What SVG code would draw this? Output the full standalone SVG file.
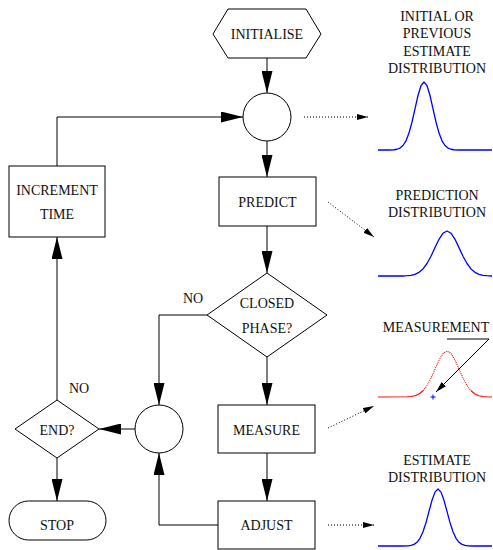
<svg xmlns="http://www.w3.org/2000/svg" width="493" height="550" viewBox="0 0 493 550">
<style>
.n{fill:#fff;stroke:#000;stroke-width:1}
.t{font-family:"Liberation Serif","Times New Roman",serif;font-size:14px;fill:#111;text-anchor:middle}
.c{fill:none;stroke:#000;stroke-width:1}
.d{fill:none;stroke:#000;stroke-width:1;stroke-dasharray:1 2}
.g{fill:none;stroke:#0000ff;stroke-width:1.3;stroke-linejoin:round}
.r{fill:none;stroke:#ff0000;stroke-width:1.1;stroke-linejoin:round}
</style>
<defs>
<marker id="ah" markerUnits="userSpaceOnUse" markerWidth="22" markerHeight="11" viewBox="0 0 22 11" refX="22" refY="5.5" orient="auto"><path d="M0,0 L22,5.5 L0,11 z" fill="#000"/></marker>
<marker id="sh" markerUnits="userSpaceOnUse" markerWidth="11" markerHeight="6" viewBox="0 0 11 6" refX="11" refY="3" orient="auto"><path d="M0,0 L11,3 L0,6 z" fill="#000"/></marker>
</defs>
<g id="connectors">
<path class="c" d="M267,58 V93" marker-end="url(#ah)"/>
<path class="c" d="M267,141 V177" marker-end="url(#ah)"/>
<path class="c" d="M267,226 V273" marker-end="url(#ah)"/>
<path class="c" d="M267,357 V405" marker-end="url(#ah)"/>
<path class="c" d="M267,453 V501" marker-end="url(#ah)"/>
<path class="c" d="M207,315 H159 V405" marker-end="url(#ah)"/>
<path class="c" d="M218,525 H159 V453" marker-end="url(#ah)"/>
<path class="c" d="M135,429 H99" marker-end="url(#ah)"/>
<path class="c" d="M57,400 V237" marker-end="url(#ah)"/>
<path class="c" d="M57,458 V501" marker-end="url(#ah)"/>
<path class="c" d="M57,166 V117 H243" marker-end="url(#ah)"/>
<path class="d" d="M304,117 H368" marker-end="url(#sh)"/>
<path class="d" d="M328,202 L374,237" marker-end="url(#sh)"/>
<path class="d" d="M328,428 L374,406" marker-end="url(#sh)"/>
<path class="d" d="M328,525 H374" marker-end="url(#sh)"/>
<path class="c" d="M447,339 H489 L436,392" marker-end="url(#sh)"/>
<text class="t" x="79" y="393">NO</text>
<text class="t" x="193" y="303">NO</text>
</g>
<g id="initialise">
<polygon class="n" points="213,34 228,9 306,9 321,34 306,58 228,58"/>
<text class="t" x="267" y="39">INITIALISE</text>
</g>
<g id="junction1"><circle class="n" cx="267" cy="117" r="24"/></g>
<g id="predict">
<rect class="n" x="219" y="177" width="97" height="49"/>
<text class="t" x="267.5" y="207">PREDICT</text>
</g>
<g id="closed-phase">
<polygon class="n" points="267,273 327,315 267,357 207,315"/>
<text class="t" x="267" y="308">CLOSED</text>
<text class="t" x="267" y="333">PHASE?</text>
</g>
<g id="measure">
<rect class="n" x="218" y="405" width="97" height="48"/>
<text class="t" x="266.5" y="435">MEASURE</text>
</g>
<g id="adjust">
<rect class="n" x="218" y="501" width="97" height="48"/>
<text class="t" x="266.5" y="530">ADJUST</text>
</g>
<g id="junction2"><circle class="n" cx="159" cy="429" r="24"/></g>
<g id="end">
<polygon class="n" points="57,400 99,429 57,458 15,429"/>
<text class="t" x="57" y="435">END?</text>
</g>
<g id="increment-time">
<rect class="n" x="9" y="166" width="96" height="71"/>
<text class="t" x="57" y="195">INCREMENT</text>
<text class="t" x="57" y="219">TIME</text>
</g>
<g id="stop">
<rect class="n" x="9" y="501" width="97" height="39" rx="19.5"/>
<text class="t" x="57" y="530">STOP</text>
</g>
<g id="dist-initial">
<text class="t" x="437" y="21">INITIAL OR</text>
<text class="t" x="437" y="38">PREVIOUS</text>
<text class="t" x="437" y="55.5">ESTIMATE</text>
<text class="t" x="437" y="73">DISTRIBUTION</text>
<polyline class="g" points="378,150 388,150 394,149.74 397,149.24 400,148.1 403,145.5 406,140.8 409,133.1 412,122 415,108.8 418,95.5 421,85.7 424,82 427,85.7 430,95.5 433,108.8 436,122 439,133.1 442,140.8 445,145.5 448,148.1 451,149.24 454,149.74 460,150 492,150"/>
</g>
<g id="dist-prediction">
<text class="t" x="437" y="200">PREDICTION</text>
<text class="t" x="437" y="217">DISTRIBUTION</text>
<polyline class="g" points="378,276 403,276 407,275.7 411,275.3 415,274.3 419,272.3 423,268.9 427,263.5 431,256.2 435,247.6 439,239.3 443,233.2 447,231 451,233.2 455,239.3 459,247.6 463,256.2 467,263.5 471,268.9 475,272.3 479,274.3 483,275.3 487,275.7 491,276 492,276"/>
</g>
<g id="dist-measurement">
<text class="t" x="436" y="332">MEASUREMENT</text>
<polyline class="r" points="378,397 407,396.8 411,396.5 415,395.7 419,394 423,390.8"/>
<polyline class="r" stroke-dasharray="1 1" points="423,390.8 427,385.5 431,378.1 435,369.1 439,360.2 443,353.5 447,351 451,353.5 455,360.2 459,369.1 463,378.1 467,385.5 471,390.8"/>
<polyline class="r" points="471,390.8 475,394 479,395.7 483,396.5 487,396.8 492,397"/>
<path d="M430.5,397 H435.5 M433,394.5 V399.5" stroke="#0000ff" stroke-width="1" fill="none"/>
</g>
<g id="dist-estimate">
<text class="t" x="437" y="465">ESTIMATE</text>
<text class="t" x="437" y="482">DISTRIBUTION</text>
<polyline class="g" points="378,546 402,546 408,545.8 411,545.4 414,544.4 417,542.3 420,538.3 423,531.8 426,522.6 429,511.4 432,500.3 435,492.1 438,489 441,492.1 444,500.3 447,511.4 450,522.6 453,531.8 456,538.3 459,542.3 462,544.4 465,545.4 468,545.8 474,546 492,546"/>
</g>
</svg>
